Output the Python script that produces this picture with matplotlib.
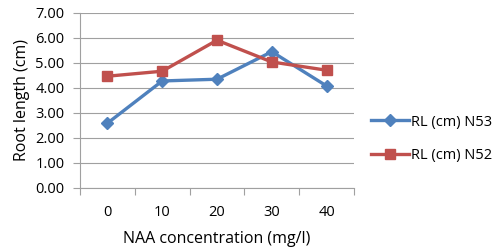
import matplotlib
matplotlib.use("Agg")
import matplotlib.pyplot as plt
import numpy as np

# data
concentrations = ["0", "10", "20", "30", "40"]
rl_n53 = [2.59, 4.28, 4.35, 5.45, 4.08]
rl_n52 = [4.47, 4.67, 5.91, 5.04, 4.71]

plt.rcParams['font.family'] = ['Open Sans', 'DejaVu Sans']

fig = plt.figure(figsize=(5, 2.49), dpi=100)
ax = fig.add_axes([0.16, 0.245, 0.548, 0.703])

x = np.arange(len(concentrations))
ax.plot(x, rl_n53, color='#4F81BD', lw=2.4, marker='D', ms=6.5, label='RL (cm) N53')
ax.plot(x, rl_n52, color='#C0504D', lw=2.4, marker='s', ms=7.5, label='RL (cm) N52')

ax.set_xlim(-0.5, len(concentrations) - 0.5)
ax.set_ylim(0, 7)
ax.set_yticks(np.arange(0, 7.01, 1))
ax.set_yticklabels([f"{v:.2f}" for v in np.arange(0, 7.01, 1)])
ax.yaxis.grid(True, color='#A0A0A0', lw=0.8)
ax.set_axisbelow(True)

# category labels in the middle, tick marks on the boundaries
ax.set_xticks(x)
ax.set_xticklabels(concentrations)
ax.tick_params(axis='x', which='major', length=0, pad=12)
ax.set_xticks(np.arange(-0.5, len(concentrations)), minor=True)
ax.tick_params(axis='x', which='minor', length=5, color='#A0A0A0', width=0.8)
ax.tick_params(axis='y', length=5, color='#A0A0A0', width=0.8, pad=6)
ax.tick_params(labelsize=10.5)

for s in ['top', 'right']:
    ax.spines[s].set_visible(False)
for s in ['left', 'bottom']:
    ax.spines[s].set_color('#A0A0A0')
    ax.spines[s].set_linewidth(0.8)

ax.set_ylabel('Root length (cm)', fontsize=11.5, labelpad=4)
ax.set_xlabel('NAA concentration (mg/l)', fontsize=11.5, labelpad=8)

ax.legend(loc='center left', bbox_to_anchor=(1.015, 0.28), frameon=False,
          fontsize=10.5, handlelength=2.6, handletextpad=0.15, labelspacing=1.3)

fig.savefig('out.png', dpi=100)
